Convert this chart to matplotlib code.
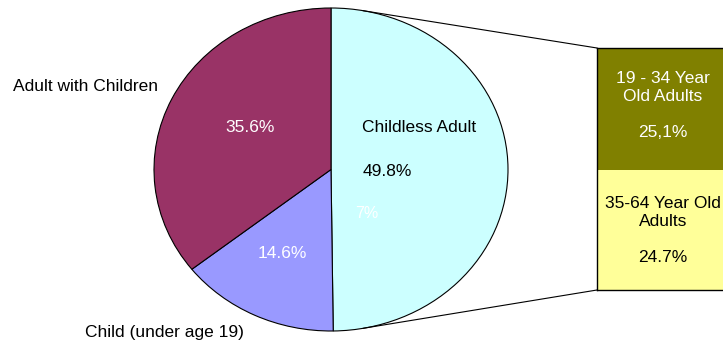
import matplotlib
matplotlib.use('Agg')
import matplotlib.pyplot as plt
import numpy as np
from matplotlib.patches import ConnectionPatch

plt.rcParams['font.family'] = ['Liberation Sans', 'DejaVu Sans']

# pie slices, clockwise from the top
pie_labels = ['Childless Adult', 'Child (under age 19)', 'Adult with Children']
pie_values = [49.8, 14.6, 35.6]
pie_colors = ['#CCFFFF', '#9999FF', '#993366']

# breakdown of the childless adult slice
bar_labels = ['35-64 Year Old\nAdults', '19 - 34 Year\nOld Adults']
bar_values = [24.7, 25.1]
bar_pct = ['24.7%', '25,1%']
bar_colors = ['#FFFF99', '#808000']
bar_text_colors = ['black', 'white']

W, H = 723, 348
fig = plt.figure(figsize=(W / 100, H / 100), dpi=100)

# pie drawn as an ellipse: its own axes with free aspect
cx, cy, rx, ry = 331, 169.5, 177, 161.5
pax = fig.add_axes([(cx - rx) / W, (H - cy - ry) / H, 2 * rx / W, 2 * ry / H])
pax.pie(pie_values, colors=pie_colors, startangle=90, counterclock=False,
        radius=1, wedgeprops=dict(edgecolor='black', linewidth=0.8))
pax.set_xlim(-1, 1)
pax.set_ylim(-1, 1)
pax.set_aspect('auto')
pax.axis('off')

fs = 12.5
pax.text(0.175, 0.263, 'Childless Adult', ha='left', va='center', fontsize=fs)
pax.text(0.18, -0.01, '%.1f%%' % pie_values[0], ha='left', va='center', fontsize=fs)
pax.text(0.136, -0.27, '7%', ha='left', va='center', fontsize=fs - 1, color='white')
pax.text(-1.797, 0.511, pie_labels[2], ha='left', va='center', fontsize=fs)
pax.text(-0.458, 0.257, '%.1f%%' % pie_values[2], ha='center', va='center',
         fontsize=fs, color='white')
pax.text(-0.277, -0.523, '%.1f%%' % pie_values[1], ha='center', va='center',
         fontsize=fs, color='white')
pax.text(-0.943, -1.012, pie_labels[1], ha='center', va='center', fontsize=fs)

# stacked bar for the split, running off the right edge
bx0, btop, bbot, bw = 597, 48, 290, 132
bax = fig.add_axes([bx0 / W, (H - bbot) / H, bw / W, (bbot - btop) / H])
bottom = 0
label_y = [15.95, 41.67]
pct_y = [6.79, 32.51]
for i, (val, col) in enumerate(zip(bar_values, bar_colors)):
    bax.bar(0.5, val, width=1, bottom=bottom, color=col, edgecolor='none')
    bax.text(0.5, label_y[i], bar_labels[i], ha='center', va='center', fontsize=fs,
             color=bar_text_colors[i], linespacing=1.2)
    bax.text(0.5, pct_y[i], bar_pct[i], ha='center', va='center', fontsize=fs,
             color=bar_text_colors[i])
    bottom += val
bax.set_xlim(0, 1)
bax.set_ylim(0, sum(bar_values))
bax.set_xticks([])
bax.set_yticks([])
for sp in bax.spines.values():
    sp.set_linewidth(1)
    sp.set_color('black')

# connector lines from the pie edge to the bar corners
a = np.radians(79.6)
for sgn, yb in [(1, 1), (-1, 0)]:
    con = ConnectionPatch(xyA=(np.cos(a), sgn * np.sin(a)), coordsA=pax.transData,
                          xyB=(0, yb), coordsB=bax.transAxes,
                          color='black', linewidth=0.8)
    fig.add_artist(con)

fig.savefig('out.png', dpi=100)
